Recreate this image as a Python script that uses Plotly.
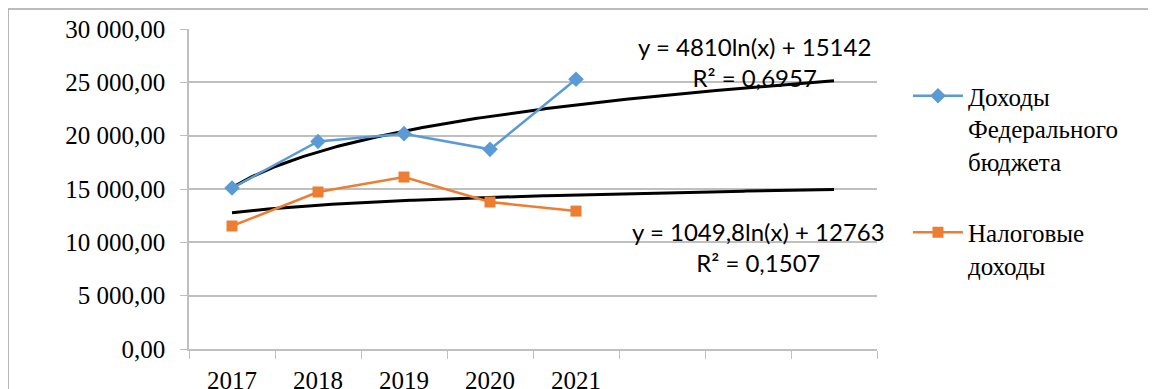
import numpy as np
import plotly.graph_objects as go

years = ["2017", "2018", "2019", "2020", "2021"]
extra_slots = ["", "", ""]
federal_revenue = [15088.9, 19454.4, 20188.8, 18719.1, 25286.4]
tax_revenue = [11530, 14720, 16120, 13780, 12930]

trend_fed = (4810.0, 15142.0)     # y = a ln(x) + b
trend_tax = (1049.8, 12763.0)
trend_fed_label = "y = 4810ln(x) + 15142<br>R² = 0,6957"
trend_tax_label = "y = 1049,8ln(x) + 12763<br>R² = 0,1507"

y_ticks = [0, 5000, 10000, 15000, 20000, 25000, 30000]
y_ticktext = ["0,00", "5 000,00", "10 000,00", "15 000,00", "20 000,00", "25 000,00", "30 000,00"]

all_labels = years + extra_slots
n_slots = len(all_labels)
xpos = list(range(1, len(years) + 1))
xt = np.linspace(1, n_slots, 200)

serif = "Liberation Serif"
sans = "Lato"
grid = "#bfbfbf"

fig = go.Figure()
fig.add_trace(go.Scatter(x=xt, y=trend_fed[0] * np.log(xt) + trend_fed[1], mode="lines",
                         line=dict(color="black", width=3), showlegend=False, hoverinfo="skip"))
fig.add_trace(go.Scatter(x=xt, y=trend_tax[0] * np.log(xt) + trend_tax[1], mode="lines",
                         line=dict(color="black", width=3), showlegend=False, hoverinfo="skip"))
fig.add_trace(go.Scatter(x=xpos, y=federal_revenue, mode="lines+markers",
                         name="Доходы<br>Федерального<br>бюджета", legendgroup="a",
                         line=dict(color="#5b9bd5", width=2.5),
                         marker=dict(symbol="diamond", size=12, color="#5b9bd5")))
fig.add_trace(go.Scatter(x=xpos, y=tax_revenue, mode="lines+markers",
                         name="Налоговые<br>доходы", legendgroup="b",
                         line=dict(color="#ed7d31", width=2.5),
                         marker=dict(symbol="square", size=11, color="#ed7d31")))

fig.add_annotation(x=7.08, y=26950, xref="x", yref="y", text=trend_fed_label, showarrow=False,
                   font=dict(family=sans, size=24, color="black"), align="center")
fig.add_annotation(x=7.12, y=9600, xref="x", yref="y", text=trend_tax_label, showarrow=False,
                   font=dict(family=sans, size=24, color="black"), align="center")

# outer chart border
fig.add_shape(type="rect", xref="paper", yref="paper", x0=-0.263, x1=1.45, y0=-0.3, y1=1.0625,
              line=dict(color="#a6a6a6", width=1.5))

fig.update_layout(
    width=1156, height=389,
    margin=dict(l=181, r=287, t=21, b=48, autoexpand=False),
    plot_bgcolor="white", paper_bgcolor="white",
    font=dict(family=serif, size=24, color="black"),
    xaxis=dict(range=[0.5, n_slots + 0.5], tickvals=list(range(1, n_slots + 1)), ticktext=all_labels,
               ticks="", showgrid=False, zeroline=False, showline=False, ticklabelstandoff=14,
               tickfont=dict(family=serif, size=25)),
    xaxis2=dict(range=[0.5, n_slots + 0.5], overlaying="x", side="bottom",
                tickvals=[i + 0.5 for i in range(0, n_slots + 1)], ticktext=[""] * (n_slots + 1),
                ticks="outside", ticklen=8, tickcolor=grid, showgrid=False, zeroline=False,
                showline=True, linecolor=grid, linewidth=1.5),
    yaxis=dict(range=[0, 30000], tickvals=y_ticks, ticktext=y_ticktext, showgrid=True,
               gridcolor=grid, gridwidth=1.5, zeroline=False, showline=True, linecolor=grid,
               linewidth=1.5, ticks="outside", ticklen=7, tickcolor=grid, ticklabelstandoff=10,
               tickfont=dict(family=serif, size=25)),
    legend=dict(x=1.045, y=0.8625, xanchor="left", yanchor="top", valign="top",
                tracegroupgap=36, traceorder="grouped", font=dict(family=serif, size=25),
                itemwidth=50),
    showlegend=True,
)
fig.add_trace(go.Scatter(x=[None], y=[None], xaxis="x2", showlegend=False))

fig.write_html("out.html")
